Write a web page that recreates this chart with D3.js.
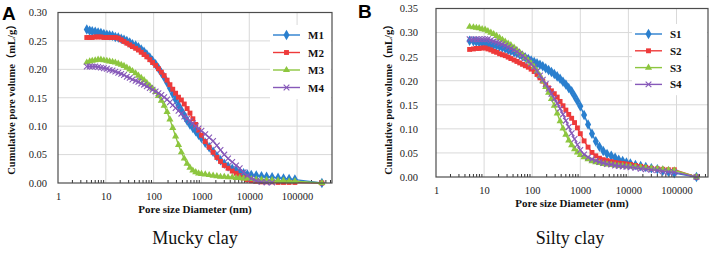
<!DOCTYPE html>
<html>
<head>
<meta charset="utf-8">
<script src="https://cdn.jsdelivr.net/npm/d3@7"></script>
<style>
  html, body { margin: 0; padding: 0; background: #fff; }
  svg { display: block; }
  .serif { font-family: "Liberation Serif", "Times New Roman", "Noto Sans CJK SC", serif; }
</style>
</head>
<body>
<div id="chart"></div>
<script>
// pore diameters (nm), mucky clay samples
const diamA = [
  4.0, 4.6, 5.2, 6.0, 6.9, 7.9, 9.1, 10.5, 12, 13.8,
  15.8, 18.2, 21, 24, 27.5, 31.6, 36, 42, 48, 55,
  63, 72, 83, 95, 110, 126, 145, 166, 191, 219,
  251, 288, 331, 380, 437, 501, 575, 661, 759, 871,
  1000, 1200, 1450, 1750, 2100, 2500, 3000, 3600, 4400, 5300,
  6300, 7600, 9100, 11000, 14000, 18000, 23000, 30000, 40000, 52000,
  68000, 90000, 330000
];
const m1 = [
  0.270, 0.268, 0.267, 0.266, 0.265, 0.264, 0.262, 0.261, 0.260, 0.259,
  0.257, 0.256, 0.254, 0.252, 0.250, 0.247, 0.244, 0.242, 0.239, 0.235,
  0.231, 0.226, 0.221, 0.215, 0.209, 0.202, 0.194, 0.186, 0.177, 0.167,
  0.157, 0.147, 0.137, 0.128, 0.119, 0.110, 0.103, 0.097, 0.091, 0.085,
  0.079, 0.071, 0.063, 0.055, 0.047, 0.040, 0.034, 0.029, 0.025, 0.022,
  0.019, 0.017, 0.015, 0.014, 0.013, 0.012, 0.011, 0.010, 0.009, 0.008,
  0.007, 0.006, 0.000
];
const m2 = [
  0.256, 0.256, 0.256, 0.257, 0.257, 0.257, 0.256, 0.256, 0.256, 0.256,
  0.256, 0.255, 0.252, 0.249, 0.246, 0.243, 0.240, 0.237, 0.234, 0.230,
  0.226, 0.222, 0.217, 0.212, 0.207, 0.201, 0.195, 0.189, 0.181, 0.173,
  0.165, 0.158, 0.151, 0.146, 0.139, 0.131, 0.123, 0.113, 0.103, 0.093,
  0.084, 0.073, 0.063, 0.054, 0.045, 0.038, 0.031, 0.026, 0.021, 0.017,
  0.013, 0.009, 0.006, 0.004, 0.003, 0.002, 0.002, 0.002, 0.001, 0.001,
  0.001, 0.001, 0.000
];
const m3 = [
  0.212, 0.214, 0.215, 0.216, 0.217, 0.217, 0.216, 0.215, 0.214, 0.213,
  0.212, 0.210, 0.208, 0.206, 0.203, 0.200, 0.197, 0.193, 0.189, 0.185,
  0.181, 0.176, 0.171, 0.166, 0.160, 0.153, 0.145, 0.136, 0.125, 0.112,
  0.097, 0.082, 0.067, 0.054, 0.043, 0.034, 0.027, 0.022, 0.019, 0.017,
  0.016, 0.015, 0.014, 0.013, 0.012, 0.011, 0.011, 0.010, 0.010, 0.009,
  0.009, 0.008, 0.008, 0.007, 0.006, 0.006, 0.005, 0.005, 0.004, 0.004,
  0.003, 0.003, 0.000
];
const m4 = [
  0.205, 0.205, 0.205, 0.205, 0.204, 0.203, 0.202, 0.201, 0.199, 0.198,
  0.196, 0.194, 0.192, 0.190, 0.187, 0.185, 0.182, 0.180, 0.178, 0.175,
  0.173, 0.170, 0.167, 0.164, 0.161, 0.158, 0.155, 0.151, 0.147, 0.142,
  0.137, 0.132, 0.127, 0.122, 0.117, 0.113, 0.109, 0.105, 0.100, 0.096,
  0.092, 0.086, 0.080, 0.074, 0.066, 0.058, 0.050, 0.043, 0.037, 0.031,
  0.026, 0.019, 0.013, 0.008, 0.004, 0.002, 0.001, 0.001, null, null,
  null, null, null
];

// silty clay samples
const diamB = [
  5.0, 6.0, 6.9, 7.9, 9.1, 10.5, 12, 13.8, 15.8, 18.2,
  21, 24, 27.5, 31.6, 36, 42, 48, 55, 63, 72,
  83, 95, 110, 126, 145, 166, 191, 219, 251, 288,
  331, 380, 437, 501, 575, 661, 759, 871, 1000, 1200,
  1450, 1750, 2100, 2500, 3000, 3600, 4400, 5300, 6300, 7600,
  9100, 11000, 14000, 18000, 23000, 30000, 40000, 52000, 68000, 90000,
  260000
];
const s1 = [
  0.283, 0.282, 0.281, 0.280, 0.279, 0.278, 0.277, 0.276, 0.274, 0.273,
  0.271, 0.269, 0.267, 0.264, 0.262, 0.259, 0.257, 0.254, 0.251, 0.248,
  0.245, 0.242, 0.239, 0.236, 0.233, 0.230, 0.226, 0.222, 0.218, 0.214,
  0.209, 0.204, 0.198, 0.192, 0.185, 0.178, 0.168, 0.158, 0.147, 0.129,
  0.109, 0.090, 0.074, 0.063, 0.054, 0.048, 0.044, 0.040, 0.036, 0.033,
  0.030, 0.028, 0.025, 0.023, 0.021, 0.018, 0.016, 0.013, 0.011, 0.008,
  0.000
];
const s2 = [
  0.265, 0.266, 0.267, 0.267, 0.268, 0.268, 0.266, 0.264, 0.261, 0.259,
  0.256, 0.254, 0.252, 0.249, 0.246, 0.243, 0.240, 0.237, 0.234, 0.231,
  0.228, 0.224, 0.219, 0.213, 0.206, 0.199, 0.191, 0.185, 0.179, 0.173,
  0.166, 0.157, 0.148, 0.139, 0.130, 0.122, 0.113, 0.102, 0.090, 0.075,
  0.062, 0.051, 0.044, 0.039, 0.036, 0.034, 0.032, 0.030, 0.029, 0.028,
  0.027, 0.026, 0.024, 0.022, 0.020, 0.018, 0.017, 0.016, 0.015, 0.015,
  0.000
];
const s3 = [
  0.312, 0.311, 0.310, 0.309, 0.307, 0.306, 0.303, 0.300, 0.297, 0.293,
  0.289, 0.285, 0.281, 0.277, 0.274, 0.269, 0.264, 0.259, 0.254, 0.248,
  0.242, 0.236, 0.229, 0.220, 0.210, 0.199, 0.187, 0.175, 0.162, 0.148,
  0.132, 0.116, 0.101, 0.088, 0.076, 0.066, 0.058, 0.051, 0.046, 0.041,
  0.037, 0.033, 0.031, 0.029, 0.027, 0.026, 0.025, 0.024, 0.023, 0.023,
  0.022, 0.022, 0.021, 0.020, 0.019, 0.018, 0.017, 0.016, 0.015, 0.014,
  0.000
];
const s4 = [
  0.286, 0.286, 0.286, 0.286, 0.286, 0.286, 0.286, 0.284, 0.282, 0.280,
  0.278, 0.276, 0.273, 0.270, 0.267, 0.264, 0.260, 0.256, 0.252, 0.247,
  0.241, 0.235, 0.228, 0.220, 0.211, 0.202, 0.193, 0.183, 0.173, 0.163,
  0.153, 0.142, 0.130, 0.117, 0.104, 0.091, 0.079, 0.067, 0.056, 0.047,
  0.041, 0.037, 0.034, 0.031, 0.029, 0.027, 0.026, 0.024, 0.023, 0.022,
  0.021, 0.020, 0.019, 0.017, 0.016, 0.015, 0.014, 0.012, 0.011, 0.010,
  0.000
];

const xTickValues = [1, 10, 100, 1000, 10000, 100000];
const seriesNamesA = ['M1', 'M2', 'M3', 'M4'];
const seriesNamesB = ['S1', 'S2', 'S3', 'S4'];
const colors = ['#2a7fce', '#ee3a3a', '#8dc63f', '#8759b9'];
const markers = ['diamond', 'square', 'triangle', 'cross'];

const width = 713, height = 253;
const svg = d3.select('#chart').append('svg')
  .attr('width', width)
  .attr('height', height);

svg.append('rect').attr('width', width).attr('height', height).attr('fill', '#fff');

const crossSymbol = {
  draw(ctx, size) {
    const r = Math.sqrt(size) / 2;
    ctx.moveTo(-r, -r); ctx.lineTo(r, r);
    ctx.moveTo(-r, r); ctx.lineTo(r, -r);
  }
};

function markerPath(kind) {
  if (kind === 'diamond') return d3.symbol(d3.symbolDiamond, 32)();
  if (kind === 'square') return d3.symbol(d3.symbolSquare, 24)();
  if (kind === 'triangle') return d3.symbol(d3.symbolTriangle, 22)();
  return d3.symbol(crossSymbol, 32)();
}

function drawMarker(g, kind, color, x, y) {
  const p = g.append('path')
    .attr('d', markerPath(kind))
    .attr('transform', `translate(${x},${y})`);
  if (kind === 'cross') {
    p.attr('fill', 'none').attr('stroke', color).attr('stroke-width', 1.1);
  } else {
    p.attr('fill', color);
  }
}

function drawPanel(cfg) {
  const x = d3.scaleLog()
    .domain([1, cfg.xMax])
    .range([cfg.left, cfg.right]);
  const y = d3.scaleLinear()
    .domain([0, cfg.yMax])
    .range([cfg.bottom, cfg.top]);

  const g = svg.append('g');
  const yTicks = d3.range(0, cfg.yMax + 0.001, 0.05);

  // gridlines
  g.append('g')
    .selectAll('line.hgrid')
    .data(yTicks.slice(1))
    .enter()
    .append('line')
    .attr('x1', cfg.left).attr('x2', cfg.right)
    .attr('y1', d => y(d)).attr('y2', d => y(d))
    .attr('stroke', '#d9d9d9').attr('stroke-width', 1);

  g.append('g')
    .selectAll('line.vgrid')
    .data(xTickValues.slice(1))
    .enter()
    .append('line')
    .attr('x1', d => x(d)).attr('x2', d => x(d))
    .attr('y1', cfg.top).attr('y2', cfg.bottom)
    .attr('stroke', '#d9d9d9').attr('stroke-width', 1);

  // minor ticks (inside, pointing up)
  const minor = x.ticks().filter(t => Math.abs(Math.log10(t) - Math.round(Math.log10(t))) > 1e-6);
  g.append('g')
    .selectAll('line')
    .data(minor)
    .enter()
    .append('line')
    .attr('x1', d => x(d)).attr('x2', d => x(d))
    .attr('y1', cfg.bottom).attr('y2', cfg.bottom - 3)
    .attr('stroke', '#333').attr('stroke-width', 1);

  // series lines and markers
  const line = d3.line()
    .defined(d => d[1] !== null)
    .x(d => x(d[0]))
    .y(d => y(d[1]));

  cfg.series.forEach((vals, i) => {
    const pts = cfg.diam.map((d, k) => [d, vals[k]]);
    g.append('path')
      .datum(pts)
      .attr('fill', 'none')
      .attr('stroke', colors[i])
      .attr('stroke-width', 1.4)
      .attr('d', line);
    const mg = g.append('g');
    pts.filter(p => p[1] !== null).forEach(p => {
      drawMarker(mg, markers[i], colors[i], x(p[0]), y(p[1]));
    });
  });

  // frame
  g.append('rect')
    .attr('x', cfg.left).attr('y', cfg.top)
    .attr('width', cfg.right - cfg.left)
    .attr('height', cfg.bottom - cfg.top)
    .attr('fill', 'none')
    .attr('stroke', '#4d4d4d')
    .attr('stroke-width', 1.2);

  // axes
  const yAxis = g.append('g')
    .attr('transform', `translate(${cfg.left - cfg.yLabelGap},0)`)
    .call(d3.axisLeft(y).tickValues(yTicks).tickSize(0).tickFormat(d3.format('.2f')));
  yAxis.select('.domain').remove();
  yAxis.selectAll('text')
    .attr('class', 'serif')
    .attr('font-size', '10.5px')
    .attr('fill', '#222');

  const xAxis = g.append('g')
    .attr('transform', `translate(0,${cfg.bottom + 7})`)
    .call(d3.axisBottom(x).tickValues(xTickValues).tickSize(0).tickFormat(d3.format('d')));
  xAxis.select('.domain').remove();
  xAxis.selectAll('text')
    .attr('class', 'serif')
    .attr('font-size', '10.5px')
    .attr('fill', '#222');

  // axis titles
  g.append('text')
    .attr('class', 'serif')
    .attr('x', (cfg.left + cfg.right) / 2)
    .attr('y', cfg.bottom + 30)
    .attr('text-anchor', 'middle')
    .attr('font-size', '11px')
    .attr('font-weight', 'bold')
    .attr('fill', '#111')
    .text('Pore size Diameter (nm)');

  g.append('text')
    .attr('class', 'serif')
    .attr('transform', `translate(${cfg.yTitleX},${cfg.yTitleY}) rotate(-90)`)
    .attr('text-anchor', 'middle')
    .attr('font-size', '10.5px')
    .attr('font-weight', 'bold')
    .attr('fill', '#111')
    .text('Cumulative pore volume（mL/g）');

  // legend
  const lg = g.append('g');
  lg.append('rect')
    .attr('x', cfg.legend.x0 - 3).attr('y', cfg.legend.y0 - 10)
    .attr('width', cfg.right - cfg.legend.x0 + 2)
    .attr('height', cfg.legend.dy * 4 + 4)
    .attr('fill', '#fff');
  cfg.names.forEach((name, i) => {
    const ly = cfg.legend.y0 + i * cfg.legend.dy;
    lg.append('line')
      .attr('x1', cfg.legend.x0).attr('x2', cfg.legend.x0 + 27)
      .attr('y1', ly).attr('y2', ly)
      .attr('stroke', colors[i]).attr('stroke-width', 1.4);
    drawMarker(lg, markers[i], colors[i], cfg.legend.x0 + 13.5, ly);
    lg.append('text')
      .attr('class', 'serif')
      .attr('x', cfg.legend.x0 + 35)
      .attr('y', ly + 4)
      .attr('font-size', '11px')
      .attr('font-weight', 'bold')
      .attr('fill', '#111')
      .text(name);
  });

  // panel letter
  svg.append('text')
    .attr('x', cfg.letterX).attr('y', cfg.letterY)
    .attr('font-family', 'Liberation Sans, Arial, sans-serif')
    .attr('font-size', '19px')
    .attr('font-weight', 'bold')
    .attr('fill', '#000')
    .text(cfg.letter);

  // caption
  svg.append('text')
    .attr('class', 'serif')
    .attr('x', cfg.captionX).attr('y', 244)
    .attr('text-anchor', 'middle')
    .attr('font-size', '18px')
    .attr('fill', '#111')
    .text(cfg.caption);
}

drawPanel({
  left: 58, right: 332, top: 12.5, bottom: 183,
  xMax: Math.pow(10, 5.73), yMax: 0.30,
  diam: diamA, series: [m1, m2, m3, m4], names: seriesNamesA,
  yLabelGap: 8, yTitleX: 15, yTitleY: 97,
  legend: { x0: 273, y0: 35, dy: 17.5 },
  letter: 'A', letterX: 2, letterY: 20,
  caption: 'Mucky clay', captionX: 195
});

drawPanel({
  left: 436, right: 708, top: 8.5, bottom: 177,
  xMax: Math.pow(10, 5.655), yMax: 0.35,
  diam: diamB, series: [s1, s2, s3, s4], names: seriesNamesB,
  yLabelGap: 15, yTitleX: 392, yTitleY: 97,
  legend: { x0: 635, y0: 34, dy: 16.8 },
  letter: 'B', letterX: 358, letterY: 18,
  caption: 'Silty clay', captionX: 570
});
</script>
</body>
</html>
